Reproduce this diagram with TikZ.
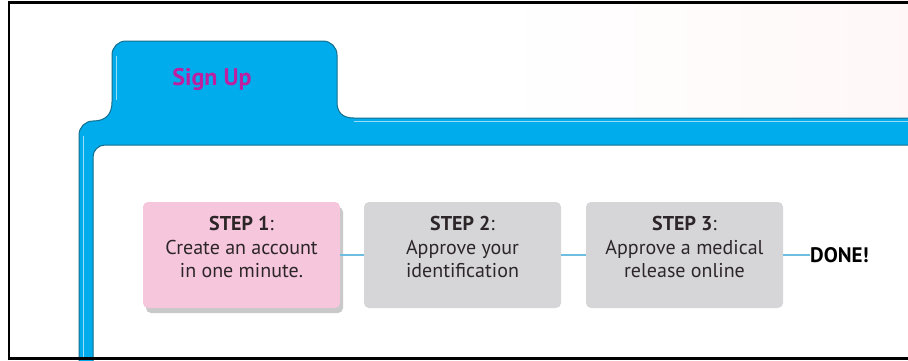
\documentclass[tikz,border=0pt]{standalone}
\usepackage{fontspec}
\setmainfont{PT Sans}
\usepackage{tikz}
\usetikzlibrary{positioning, calc, shadows}
\usepackage{xcolor}
\definecolor{tabblue}{RGB}{0,172,236}
\definecolor{tabedge}{RGB}{20,110,140}
\definecolor{signup}{RGB}{190,30,160}
\definecolor{pinkbox}{RGB}{246,198,220}
\definecolor{graybox}{RGB}{214,214,216}
\definecolor{linkblue}{RGB}{110,190,225}
\definecolor{steptext}{RGB}{45,38,40}

\begin{document}
\begin{tikzpicture}[x=1pt, y=-1pt,
  stepbox/.style={rounded corners=5pt, minimum width=197pt, minimum height=106pt, inner sep=0pt},
  steptitle/.style={align=center, text=steptext, font=\fontsize{20}{23.5}\selectfont, yshift=8pt},
  link/.style={linkblue, line width=1.6pt}]
  \useasboundingbox (0,0) rectangle (908,360);
  \clip (0,0) rectangle (908,360);
  % Background
  \fill[white] (0,0) rectangle (908,360);
  \shade[left color=white, right color=pink!12] (500,0) rectangle (908,118);
  % Tab and frame bar
  \draw[fill=tabblue, draw=tabedge, line width=1pt]
    (79,365) -- (79,135) arc[start angle=180, end angle=270, radius=14] -- (93,121)
    .. controls (106,121) and (112,114) .. (112,102)
    -- (112,55) arc[start angle=180, end angle=270, radius=14]
    -- (323,41) arc[start angle=270, end angle=360, radius=14]
    -- (337,102) .. controls (337,112) and (342,118) .. (354,118)
    -- (915,118) -- (915,145) -- (105,145)
    arc[start angle=270, end angle=180, radius=12] -- (93,365) -- cycle;
  \draw[cyan!40!white, line width=0.8pt]
    (83,360) -- (83,136) (116,100) -- (116,56) (354,121.5) -- (908,121.5);
  \node[signup, font=\bfseries\fontsize{24}{26}\selectfont] (title) at (212,79) {Sign Up};
  % Steps
  \node[stepbox, fill=pinkbox, drop shadow={shadow xshift=3pt, shadow yshift=-5pt, opacity=0.35, fill=black!60},
    label={[steptitle]center:{\textbf{STEP 1}:\\Create an account\\in one minute.}}] (step1) at (241.5,255) {};
  \node[stepbox, fill=graybox,
    label={[steptitle]center:{\textbf{STEP 2}:\\Approve your\\identification}}] (step2) at (462.5,255) {};
  \node[stepbox, fill=graybox,
    label={[steptitle]center:{\textbf{STEP 3}:\\Approve a medical\\release online}}] (step3) at (684.5,255) {};
  \node[anchor=west, inner sep=0pt, text=black, font=\bfseries\fontsize{21}{22}\selectfont]
    (done) at (810,255) {DONE!};
  \draw[link] (step1) -- (step2);
  \draw[link] (step2) -- (step3);
  \draw[link] (step3) -- (done);
  % Frame
  \draw[black, line width=2.5pt] (9,360) -- (9,2.5) -- (908,2.5);
  \draw[black, line width=2.5pt] (9,358.5) -- (908,358.5);
\end{tikzpicture}
\end{document}
